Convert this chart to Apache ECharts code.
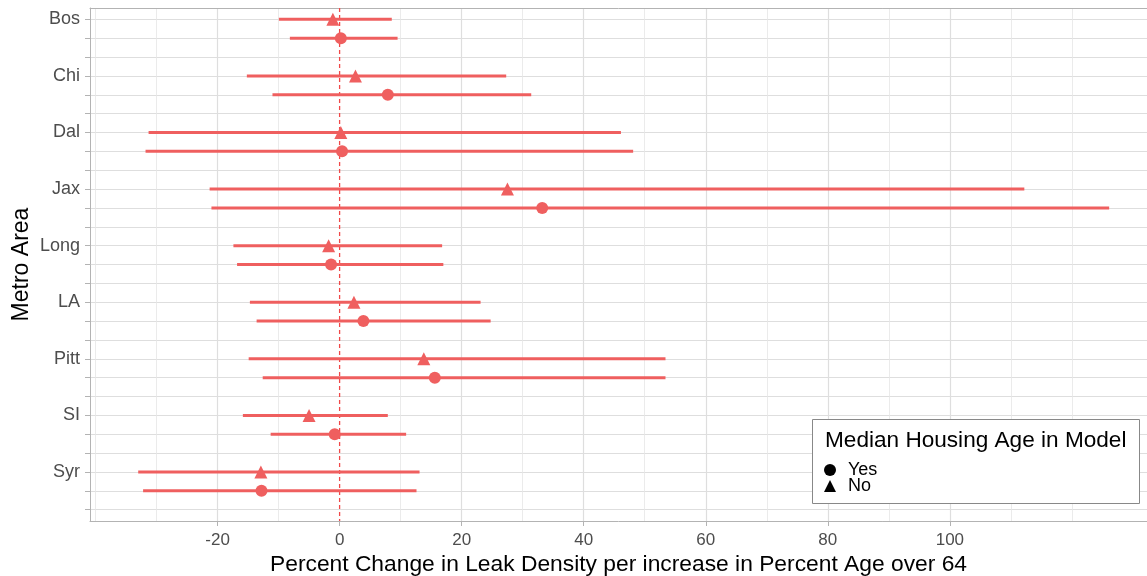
<!DOCTYPE html>
<html>
<head>
<meta charset="utf-8">
<script src="https://cdn.jsdelivr.net/npm/echarts@6/dist/echarts.min.js"></script>
<style>
  html, body { margin: 0; padding: 0; background: #fff; }
  #chart { width: 1147px; height: 576px; }
</style>
</head>
<body>
<div id="chart"></div>
<script>
// Metro areas, top to bottom
const metros = ['Bos', 'Chi', 'Dal', 'Jax', 'Long', 'LA', 'Pitt', 'SI', 'Syr'];

// Model without median housing age (triangles)
const noEst = [-1.1, 2.6, 0.2, 27.5, -1.8, 2.35, 13.8, -5.0, -12.9];
const noLow = [-9.95, -15.2, -31.3, -21.3, -17.4, -14.7, -14.9, -15.85, -33.0];
const noHigh = [8.55, 27.3, 46.1, 112.2, 16.8, 23.1, 53.4, 7.9, 13.1];

// Model with median housing age (circles)
const yesEst = [0.2, 7.9, 0.4, 33.2, -1.4, 3.9, 15.6, -0.8, -12.8];
const yesLow = [-8.15, -11.0, -31.8, -21.0, -16.8, -13.6, -12.6, -11.3, -32.2];
const yesHigh = [9.5, 31.4, 48.1, 126.1, 17.0, 24.75, 53.4, 10.9, 12.6];

// Axis breaks (0 carries the dashed reference line instead of a grid line)
const xMajor = [-20, 0, 20, 40, 60, 80, 100];
const xMajorGrid = [-20, 20, 40, 60, 80, 100];
const xMinor = [-40, -30, -10, 10, 30, 50, 70, 90, 110, 120];

// Reference line of no change
const zeroLine = 0;

const RED = '#EF5F5F';
const GRID = '#dedede';
const AXIS = '#b3b3b3';
const FONT = '"Liberation Sans", Arial, sans-serif';

const X_MIN = -40.9, X_MAX = 132.3;
const Y_MIN = 0.4, Y_MAX = 27.6;

// Each metro occupies three rows: "No" estimate, "Yes" estimate, spacer
const rowNo = i => 3 * i + 1;
const rowYes = i => 3 * i + 2;
const allRows = [];
for (let r = 1; r <= metros.length * 3; r++) allRows.push(r);
const labelRows = metros.map((m, i) => rowNo(i));

const barData = [];
metros.forEach((m, i) => {
  barData.push([noLow[i], noHigh[i], rowNo(i)]);
  barData.push([yesLow[i], yesHigh[i], rowYes(i)]);
});

const chart = echarts.init(document.getElementById('chart'), null, { renderer: 'canvas' });

const option = {
  backgroundColor: '#fff',
  animation: false,
  grid: { left: 90, right: 0, top: 8, bottom: 55, containLabel: false, outerBoundsMode: 'none' },
  xAxis: [
    {
      // bottom axis: labels, ticks and title
      type: 'value', min: X_MIN, max: X_MAX,
      axisLine: { show: true, onZero: false, lineStyle: { color: AXIS, width: 1 } },
      axisTick: { show: true, length: 5, lineStyle: { color: AXIS }, customValues: xMajor },
      axisLabel: { customValues: xMajor, color: '#4d4d4d', fontSize: 17, fontFamily: FONT, margin: 11 },
      splitLine: { show: false },
      name: 'Percent Change in Leak Density per increase in Percent Age over 64',
      nameLocation: 'middle', nameGap: 32, nameMoveOverlap: false,
      nameTextStyle: { color: '#000', fontSize: 22.8, fontFamily: FONT }
    },
    {
      // top edge: panel border plus minor grid lines
      type: 'value', min: X_MIN, max: X_MAX, position: 'top',
      axisLine: { show: true, onZero: false, lineStyle: { color: AXIS, width: 1 } },
      axisTick: { show: false, customValues: xMinor },
      axisLabel: { show: false, customValues: xMinor },
      splitLine: { show: true, lineStyle: { color: '#e6e6e6', width: 0.8 } }
    },
    {
      // major vertical grid lines
      type: 'value', min: X_MIN, max: X_MAX, position: 'top', offset: 0,
      axisLine: { show: false },
      axisTick: { show: false, customValues: xMajorGrid },
      axisLabel: { show: false, customValues: xMajorGrid },
      splitLine: { show: true, lineStyle: { color: GRID, width: 1.2 } }
    }
  ],
  yAxis: {
    type: 'value', min: Y_MIN, max: Y_MAX, inverse: true,
    axisLine: { show: true, onZero: false, lineStyle: { color: AXIS, width: 1 } },
    axisTick: { show: true, length: 5, lineStyle: { color: AXIS }, customValues: allRows },
    axisLabel: {
      customValues: labelRows, color: '#4d4d4d', fontSize: 18, fontFamily: FONT, margin: 10,
      formatter: v => metros[(Math.round(v) - 1) / 3] || ''
    },
    splitLine: { show: true, lineStyle: { color: GRID, width: 1.2 } },
    name: 'Metro Area', nameLocation: 'middle', nameGap: 57, nameRotate: 90, nameMoveOverlap: false,
    nameTextStyle: { color: '#000', fontSize: 23, fontFamily: FONT }
  },
  legend: {
    orient: 'vertical', left: 819, top: 456, z: 30,
    itemWidth: 12, itemHeight: 12, itemGap: -2,
    data: [{ name: 'Yes', icon: 'circle' }, { name: 'No', icon: 'triangle' }],
    itemStyle: { color: '#000' },
    textStyle: { color: '#000', fontSize: 18, fontFamily: FONT, lineHeight: 16, padding: [0, 0, 0, 7] },
    selectedMode: false
  },
  graphic: [
    {
      type: 'rect', left: 812, top: 419, z: 10,
      shape: { width: 327, height: 84 },
      style: { fill: '#fff', stroke: '#888', lineWidth: 1 }
    },
    {
      type: 'text', left: 825, top: 429, z: 11,
      style: { text: 'Median Housing Age in Model', fill: '#000', fontSize: 22.6, fontFamily: FONT }
    }
  ],
  series: [
    {
      name: 'zero', type: 'line', z: 2, symbol: 'none', silent: true,
      lineStyle: { color: '#F04848', width: 1.3, type: [4, 3] },
      data: [[zeroLine, Y_MIN], [zeroLine, Y_MAX]]
    },
    {
      name: 'intervals', type: 'custom', z: 3,
      data: barData,
      renderItem: (params, api) => {
        const a = api.coord([api.value(0), api.value(2)]);
        const b = api.coord([api.value(1), api.value(2)]);
        return {
          type: 'line',
          shape: { x1: a[0], y1: a[1], x2: b[0], y2: b[1] },
          style: { stroke: RED, lineWidth: 3 }
        };
      },
      encode: { x: [0, 1], y: 2 }
    },
    {
      name: 'Yes', type: 'scatter', symbol: 'circle', symbolSize: 12, z: 4,
      itemStyle: { color: RED, opacity: 1 },
      data: yesEst.map((v, i) => [v, rowYes(i)])
    },
    {
      name: 'No', type: 'scatter', symbol: 'triangle', symbolSize: 13, z: 4,
      itemStyle: { color: RED, opacity: 1 },
      data: noEst.map((v, i) => [v, rowNo(i)])
    }
  ]
};

chart.setOption(option);
</script>
</body>
</html>
